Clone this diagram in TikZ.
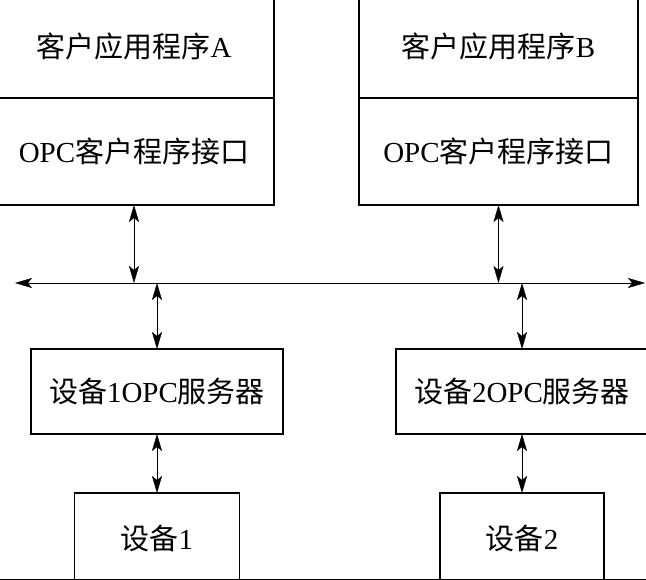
\documentclass[tikz,border=0pt]{standalone}
\usepackage{fontspec}
\setmainfont{Liberation Serif}
\newfontfamily\cjk{Noto Sans CJK SC}
\usetikzlibrary{arrows.meta}
\usetikzlibrary{positioning,calc}
\newcommand{\zh}[1]{{\cjk #1}}
\tikzset{
	every node/.style={font=\fontsize{29}{32}\selectfont}
}
\tikzset{
	x=1pt,y=-1pt,line width=2pt,
	>={Stealth[length=17pt,width=10pt,inset=4pt]},
	conn/.style={<->},
	box node/.style={rectangle,draw,inner sep=0pt,outer sep=0pt,line width=1.8pt}
}

\begin{document}
\begin{tikzpicture}
      \useasboundingbox (0,0) rectangle (646,580);
      \clip (0,0) rectangle (646,580);
      % clients
      \node[box node,minimum width=280pt,minimum height=103pt] (appA) at (134,46.5) {\zh{客户应用程序}A};
      \node[box node,minimum width=280pt,minimum height=107pt,below=0pt of appA] (ifA) {OPC\zh{客户程序接口}};
      \node[box node,minimum width=279pt,minimum height=103pt] (appB) at (498.5,46.5) {\zh{客户应用程序}B};
      \node[box node,minimum width=279pt,minimum height=107pt,below=0pt of appB] (ifB) {OPC\zh{客户程序接口}};
      % servers
      \node[box node,minimum width=252pt,minimum height=85pt] (srv1) at (157,391.5) {\zh{设备}1OPC\zh{服务器}};
      \node[box node,minimum width=252pt,minimum height=85pt] (srv2) at (522,391.5) {\zh{设备}2OPC\zh{服务器}};
      % devices
      \node[box node,minimum width=165pt,minimum height=90pt] (dev1) at (157,538) {\zh{设备}1};
      \node[box node,minimum width=164pt,minimum height=90pt] (dev2) at (522,538) {\zh{设备}2};
      % bus
      \coordinate (busL) at (15,283);
      \coordinate (busR) at (645,283);
      \draw[conn] (busL) -- (busR);
      \draw[conn] (ifA.south) -- (ifA.south |- busL);
      \draw[conn] (ifB.south) -- (ifB.south |- busL);
      \draw[conn] (srv1.north) -- (srv1.north |- busL);
      \draw[conn] (srv2.north) -- (srv2.north |- busL);
      \draw[conn] (srv1.south) -- (dev1.north);
      \draw[conn] (srv2.south) -- (dev2.north);
      \coordinate (baseL) at (0,579);
      \coordinate (baseR) at (646,579);
      \draw (baseL) -- (baseR);
    \end{tikzpicture}
\end{document}
